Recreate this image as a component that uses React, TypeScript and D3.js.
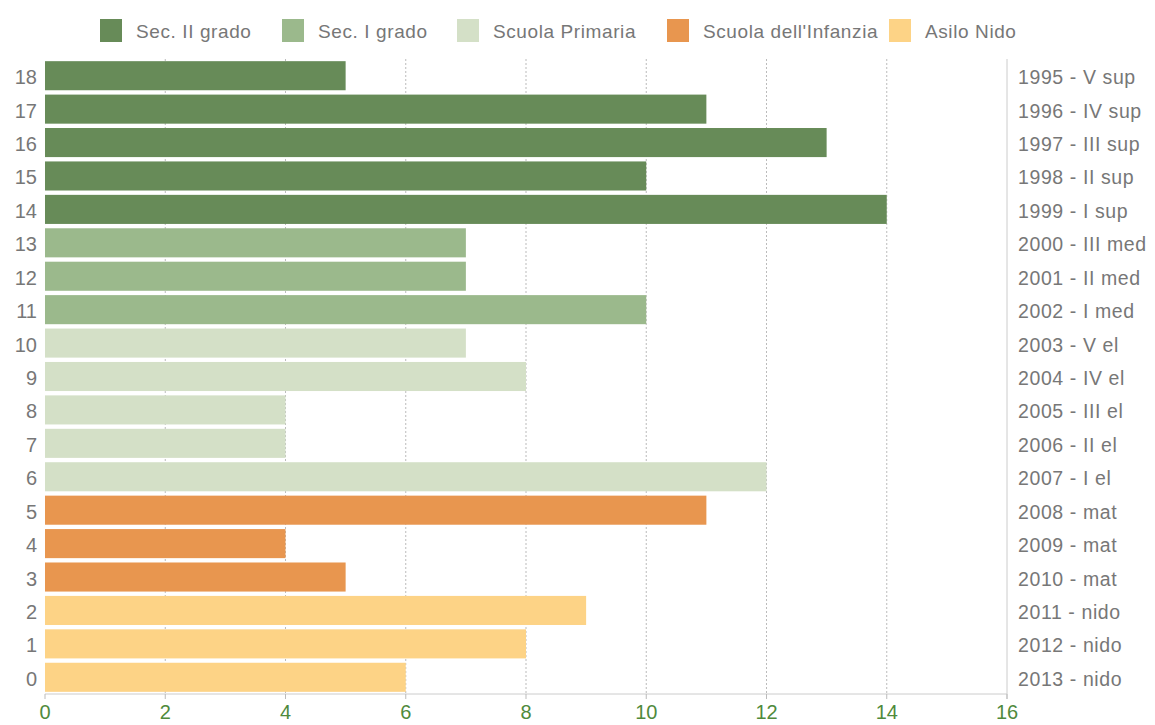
import React from "react";
import * as d3 from "d3";

const ages = [18, 17, 16, 15, 14, 13, 12, 11, 10, 9, 8, 7, 6, 5, 4, 3, 2, 1, 0];
const values = [5, 11, 13, 10, 14, 7, 7, 10, 7, 8, 4, 4, 12, 11, 4, 5, 9, 8, 6];
const yearLabels = [
  "1995 - V sup", "1996 - IV sup", "1997 - III sup", "1998 - II sup", "1999 - I sup",
  "2000 - III med", "2001 - II med", "2002 - I med",
  "2003 - V el", "2004 - IV el", "2005 - III el", "2006 - II el", "2007 - I el",
  "2008 - mat", "2009 - mat", "2010 - mat",
  "2011 - nido", "2012 - nido", "2013 - nido",
];
const groupOf = [0, 0, 0, 0, 0, 1, 1, 1, 2, 2, 2, 2, 2, 3, 3, 3, 4, 4, 4];
const seriesNames = ["Sec. II grado", "Sec. I grado", "Scuola Primaria", "Scuola dell'Infanzia", "Asilo Nido"];
const seriesColors = ["#678b58", "#9bb98c", "#d4e0c7", "#e8964f", "#fdd386"];
const xTicks = [0, 2, 4, 6, 8, 10, 12, 14, 16];
const legendX = [100, 282, 457, 667, 889];

export default function App() {
  const W = 1155, H = 725;
  const left = 45, right = 1007, top = 59, bottom = 694;
  const x = d3.scaleLinear().domain([0, 16]).range([left, right]);
  const y = d3.scaleBand<number>().domain(ages).range([top, bottom]).paddingInner(0.13).paddingOuter(0.065);
  const font = "Liberation Sans, Arial, sans-serif";
  return (
    <svg width={W} height={H} style={{ position: "absolute", left: 0, top: 0, background: "#fff" }} fontFamily={font}>
      {seriesNames.map((s, i) => (
        <g key={s}>
          <rect x={legendX[i]} y={19} width={22} height={23} fill={seriesColors[i]} />
          <text x={legendX[i] + 36} y={38} fontSize={19} letterSpacing={0.6} fill="#777">{s}</text>
        </g>
      ))}
      {xTicks.slice(1, -1).map((t) => (
        <line key={t} x1={x(t)} x2={x(t)} y1={top} y2={bottom} stroke="#bbb" strokeWidth={1} strokeDasharray="2,2" />
      ))}
      {ages.map((a, i) => (
        <g key={a}>
          <rect x={x(0)} y={y(a)!} width={x(values[i]) - x(0)} height={y.bandwidth()} fill={seriesColors[groupOf[i]]} />
          <text x={37} y={y(a)! + y.bandwidth() / 2 + 8.5} fontSize={20} fill="#777" textAnchor="end">{a}</text>
          <text x={1018} y={y(a)! + y.bandwidth() / 2 + 8.5} fontSize={19.5} letterSpacing={0.6} fill="#777">{yearLabels[i]}</text>
        </g>
      ))}
      <line x1={left} x2={right} y1={bottom} y2={bottom} stroke="#ccc" />
      <line x1={right} x2={right} y1={top} y2={bottom + 5} stroke="#ccc" />
      {xTicks.map((t) => (
        <g key={t}>
          <line x1={x(t)} x2={x(t)} y1={bottom} y2={bottom + 5} stroke="#bbb" />
          <text x={x(t)} y={719} fontSize={20} fill="#4f8a3c" textAnchor="middle">{t}</text>
        </g>
      ))}
    </svg>
  );
}
